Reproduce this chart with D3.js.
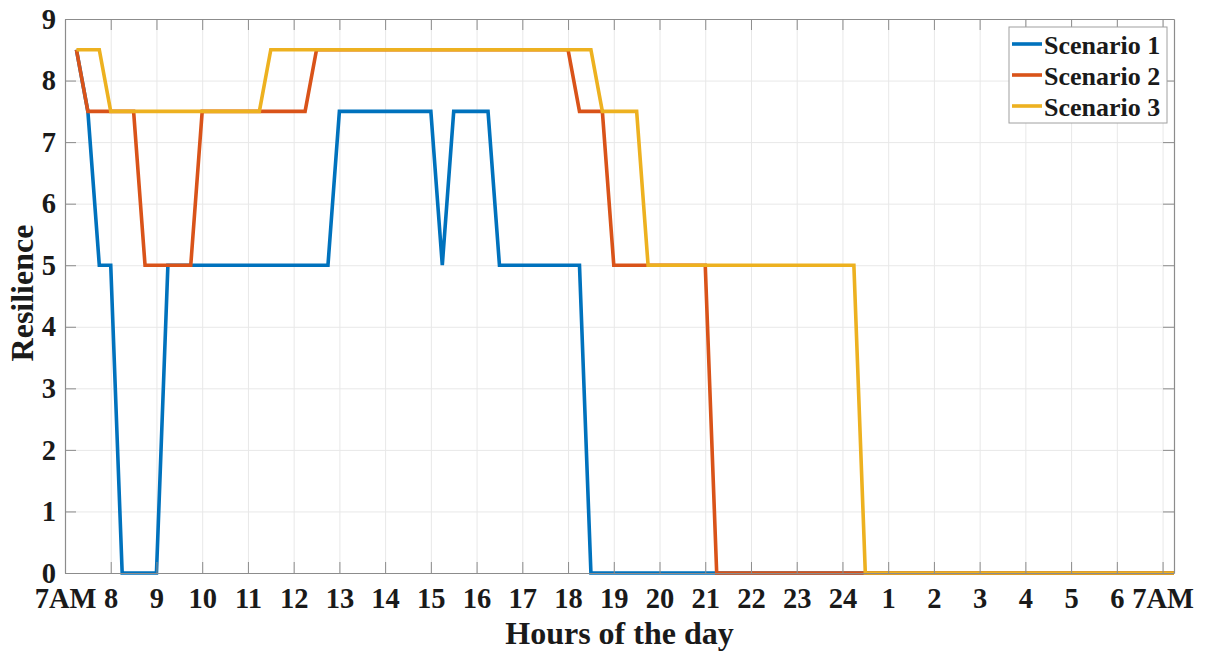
<!DOCTYPE html>
<html>
<head>
<meta charset="utf-8">
<script src="https://cdn.jsdelivr.net/npm/d3@7"></script>
<style>
  html, body { margin: 0; padding: 0; background: #fff; }
  svg text { font-family: "Liberation Serif", "Times New Roman", serif; font-weight: bold; fill: #1a1a1a; }
</style>
</head>
<body>
<svg id="chart" width="1205" height="653"></svg>
<script>
// Hours after 7AM (breakpoints of each 15-minute series) and resilience levels
const s1Hours  = [0.25, 0.5, 0.75, 1.0, 1.25, 2.0, 2.25, 5.75, 6.0, 8.0, 8.25, 8.5, 9.25, 9.5, 11.25, 11.5, 24.25];
const s1Values = [8.5,  7.5, 5,    5,   0,    0,   5,    5,    7.5, 7.5, 5,    7.5, 7.5,  5,   5,     0,    0];

const s2Hours  = [0.25, 0.5, 1.5, 1.75, 2.75, 3.0, 5.25, 5.5, 11.0, 11.25, 11.75, 12.0, 14.0, 14.25, 24.25];
const s2Values = [8.5,  7.5, 7.5, 5,    5,    7.5, 7.5,  8.5, 8.5,  7.5,   7.5,   5,    5,    0,     0];

const s3Hours  = [0.25, 0.75, 1.0, 4.25, 4.5, 11.5, 11.75, 12.5, 12.75, 17.25, 17.5, 24.25];
const s3Values = [8.5,  8.5,  7.5, 7.5,  8.5, 8.5,  7.5,   7.5,  5,     5,     0,    0];

const seriesNames = ["Scenario 1", "Scenario 2", "Scenario 3"];
const seriesColors = ["#0072BD", "#D95319", "#EDB120"];

const xTickValues = d3.range(0, 25);
const xTickLabels = ["7AM", "8", "9", "10", "11", "12", "13", "14", "15", "16", "17", "18",
                     "19", "20", "21", "22", "23", "24", "1", "2", "3", "4", "5", "6", "7AM"];
const yTickValues = d3.range(0, 10);

const xLabel = "Hours of the day";
const yLabel = "Resilience";

const svg = d3.select("#chart");
const plotL = 65, plotR = 1174, plotT = 19, plotB = 573;
const W = plotR - plotL, H = plotB - plotT;

const x = d3.scaleLinear().domain([0, 24.25]).range([plotL, plotR]);
const y = d3.scaleLinear().domain([0, 9]).range([plotB, plotT]);

// grid
const gx = svg.append("g").attr("transform", `translate(0,${plotB})`)
  .call(d3.axisBottom(x).tickValues(xTickValues).tickSize(-H).tickFormat(""));
const gy = svg.append("g").attr("transform", `translate(${plotL},0)`)
  .call(d3.axisLeft(y).tickValues(yTickValues).tickSize(-W).tickFormat(""));
[gx, gy].forEach(g => {
  g.select(".domain").remove();
  g.selectAll("line").attr("stroke", "#e8e8e8").attr("stroke-width", 1);
});

// series
const series = [
  { hours: s1Hours, values: s1Values },
  { hours: s2Hours, values: s2Values },
  { hours: s3Hours, values: s3Values }
];
const line = d3.line().x(d => x(d[0])).y(d => y(d[1]));
series.forEach((s, i) => {
  svg.append("path")
    .datum(s.hours.map((h, k) => [h, s.values[k]]))
    .attr("fill", "none")
    .attr("stroke", seriesColors[i])
    .attr("stroke-width", 3.6)
    .attr("stroke-linejoin", "miter")
    .attr("d", line);
});

// axes (inward ticks, box)
const axisColor = "#8c8c8c";
const tickFont = 28.5;
const bAxis = svg.append("g").attr("transform", `translate(0,${plotB})`)
  .call(d3.axisBottom(x).tickValues(xTickValues).tickSizeInner(-11).tickSizeOuter(0)
        .tickPadding(14.8).tickFormat((d, i) => xTickLabels[i]));
const lAxis = svg.append("g").attr("transform", `translate(${plotL},0)`)
  .call(d3.axisLeft(y).tickValues(yTickValues).tickSizeInner(-11).tickSizeOuter(0)
        .tickPadding(9).tickFormat(d3.format("d")));
const tAxis = svg.append("g").attr("transform", `translate(0,${plotT})`)
  .call(d3.axisTop(x).tickValues(xTickValues).tickSizeInner(-11).tickSizeOuter(0).tickFormat(""));
const rAxis = svg.append("g").attr("transform", `translate(${plotR},0)`)
  .call(d3.axisRight(y).tickValues(yTickValues).tickSizeInner(-11).tickSizeOuter(0).tickFormat(""));
[bAxis, lAxis, tAxis, rAxis].forEach(g => {
  g.select(".domain").attr("stroke", axisColor).attr("stroke-width", 1.2);
  g.selectAll(".tick line").attr("stroke", axisColor).attr("stroke-width", 1);
  g.selectAll("text").attr("font-size", tickFont).attr("fill", "#1a1a1a")
    .style("font-family", '"Liberation Serif", "Times New Roman", serif').style("font-weight", "bold");
});

// axis titles
svg.append("text")
  .attr("x", (plotL + plotR) / 2).attr("y", 644)
  .attr("text-anchor", "middle").attr("font-size", 32)
  .text(xLabel);
svg.append("text")
  .attr("transform", `translate(33,${293}) rotate(-90)`)
  .attr("text-anchor", "middle").attr("font-size", 32)
  .text(yLabel);

// legend
const lg = svg.append("g");
lg.append("rect").attr("x", 1009).attr("y", 27).attr("width", 158).attr("height", 96)
  .attr("fill", "#fff").attr("stroke", "#a0a0a0").attr("stroke-width", 1);
seriesNames.forEach((name, i) => {
  const cy = 45 + i * 31;
  lg.append("line").attr("x1", 1012).attr("x2", 1042).attr("y1", cy - 1).attr("y2", cy - 1)
    .attr("stroke", seriesColors[i]).attr("stroke-width", 3.6);
  lg.append("text").attr("x", 1044).attr("y", cy).attr("dy", "0.34em")
    .attr("font-size", 26).text(name);
});
</script>
</body>
</html>
